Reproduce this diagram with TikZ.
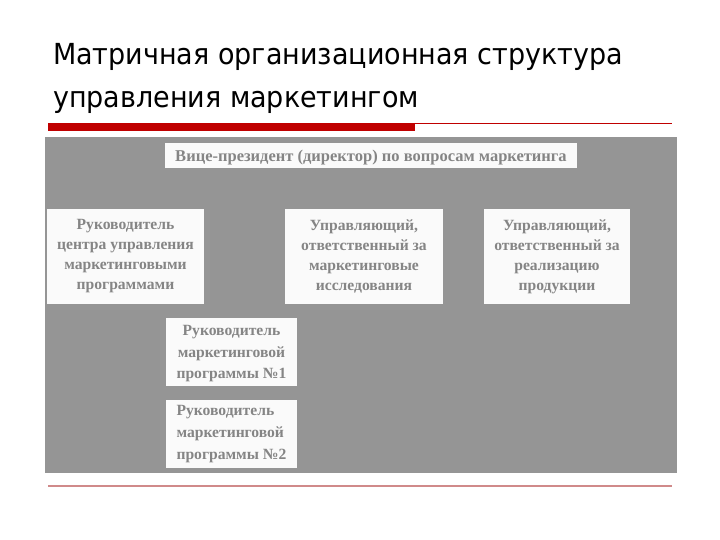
\documentclass[tikz,border=0pt]{standalone}
\usepackage{fontspec}
\setmainfont{Liberation Serif}
\newfontfamily\titlefont{DejaVu Sans}
\definecolor{barred}{HTML}{C00000}
\definecolor{linepink}{HTML}{D08A8A}
\definecolor{panelgray}{HTML}{959595}
\definecolor{textgray}{HTML}{858585}
\begin{document}
\begin{tikzpicture}[x=1pt,y=-1pt,
  box/.style={draw=none,fill=white!98!black,inner sep=0pt,align=center,
    text=textgray,font=\fontsize{15.6}{20}\selectfont\bfseries},
  title/.style={anchor=base west,inner sep=0pt,xscale=0.93,font=\titlefont\fontsize{29}{32}\selectfont}]
\useasboundingbox (0,0) rectangle (720,540);
\fill[white] (0,0) rectangle (720,540);
% title
\node[title] (t1) at (53,65) {Матричная организационная структура};
\node[title] (t2) at (53,108) {управления маркетингом};
% bars
\fill[barred] (48,123) rectangle (415,131);
\draw[barred,line width=1pt] (415,123.5) -- (672,123.5);
% panel
\fill[panelgray] (45,137) rectangle (677,473);
\draw[linepink,line width=1.6pt] (48,486) -- (672,486);
% boxes
\node[box,minimum width=412pt,minimum height=25pt,text depth=0pt,font=\fontsize{16.5}{20}\selectfont\bfseries] (vp) at (371,156)
  {Вице-президент (директор) по вопросам маркетинга};
\node[box,minimum width=157pt,minimum height=95pt] (b1) at (125.5,256.5)
  {Руководитель\\центра управления\\маркетинговыми\\программами};
\node[box,minimum width=158pt,minimum height=95pt] (b2) at (364,256.5)
  {Управляющий,\\ответственный за\\маркетинговые\\исследования};
\node[box,minimum width=146pt,minimum height=95pt] (b3) at (557,256.5)
  {Управляющий,\\ответственный за\\реализацию\\продукции};
\node[box,minimum width=131pt,minimum height=68pt,text depth=0pt,font=\fontsize{15.6}{21.5}\selectfont\bfseries] (b4) at (231.5,352)
  {Руководитель\\маркетинговой\\программы №1};
\node[box,minimum width=131pt,minimum height=68pt,align=left,font=\fontsize{15.6}{22}\selectfont\bfseries] (b5) at (231.5,434)
  {Руководитель\\маркетинговой\\программы №2};
\end{tikzpicture}
\end{document}
